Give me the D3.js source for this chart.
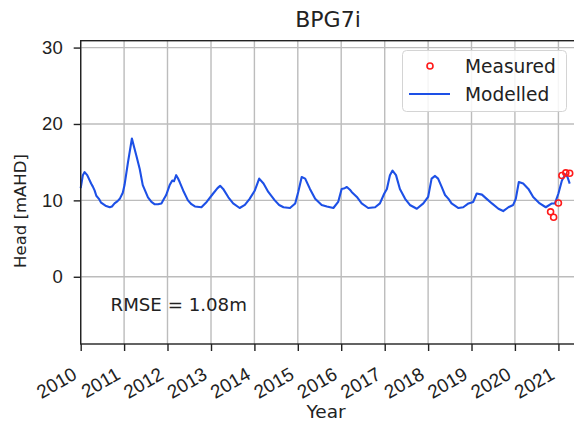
<!DOCTYPE html>
<html>
<head>
<meta charset="utf-8">
<script src="https://cdn.jsdelivr.net/npm/d3@7"></script>
<style>
  html, body { margin: 0; padding: 0; background: #fff; }
  svg { display: block; font-family: "DejaVu Sans", sans-serif; }
</style>
</head>
<body>
<svg id="chart" width="574" height="430"></svg>
<script>
// Bore BPG7i: modelled head (decimal year, mAHD)
const modelYears = [
  2010.00, 2010.05, 2010.09, 2010.15, 2010.24, 2010.28, 2010.32, 2010.36, 2010.42, 2010.47,
  2010.57, 2010.67, 2010.72, 2010.78, 2010.85, 2010.90, 2010.97, 2011.01, 2011.09, 2011.18,
  2011.23, 2011.28, 2011.36, 2011.43, 2011.55, 2011.63, 2011.70, 2011.78, 2011.86, 2011.92,
  2011.97, 2012.05, 2012.11, 2012.15, 2012.20, 2012.24, 2012.28, 2012.36, 2012.47, 2012.55,
  2012.63, 2012.78, 2012.90, 2013.05, 2013.15, 2013.21, 2013.28, 2013.40, 2013.51, 2013.66,
  2013.78, 2013.89, 2014.01, 2014.11, 2014.21, 2014.32, 2014.47, 2014.57, 2014.67, 2014.82,
  2014.94, 2015.01, 2015.09, 2015.17, 2015.28, 2015.40, 2015.55, 2015.67, 2015.82, 2015.93,
  2016.01, 2016.08, 2016.13, 2016.20, 2016.24, 2016.36, 2016.47, 2016.62, 2016.78, 2016.89,
  2016.99, 2017.05, 2017.12, 2017.18, 2017.26, 2017.35, 2017.47, 2017.58, 2017.74, 2017.89,
  2018.00, 2018.08, 2018.16, 2018.23, 2018.31, 2018.39, 2018.47, 2018.54, 2018.70, 2018.81,
  2018.93, 2019.04, 2019.12, 2019.24, 2019.35, 2019.47, 2019.62, 2019.73, 2019.85, 2019.96,
  2020.02, 2020.09, 2020.19, 2020.31, 2020.42, 2020.57, 2020.71, 2020.85, 2020.92, 2021.00,
  2021.08, 2021.16, 2021.21, 2021.26
];
const modelHead = [
  11.6, 13.3, 13.7, 13.3, 12.2, 11.8, 11.3, 10.6, 10.2, 9.7,
  9.3, 9.1, 9.2, 9.6, 9.9, 10.2, 11.0, 12.0, 15.0, 18.1,
  17.0, 15.9, 14.1, 12.0, 10.4, 9.8, 9.5, 9.5, 9.6, 10.2,
  10.7, 12.0, 12.6, 12.5, 13.3, 12.9, 12.4, 11.3, 10.0, 9.5,
  9.2, 9.1, 9.8, 10.9, 11.6, 11.9, 11.5, 10.4, 9.6, 9.0,
  9.4, 10.2, 11.3, 12.85, 12.2, 11.1, 10.0, 9.4, 9.1, 9.0,
  9.6, 11.1, 13.05, 12.85, 11.5, 10.2, 9.4, 9.2, 9.0, 9.8,
  11.5, 11.6, 11.75, 11.4, 11.1, 10.45, 9.6, 9.0, 9.1, 9.6,
  10.9, 11.5, 13.3, 13.9, 13.3, 11.5, 10.2, 9.4, 8.9, 9.6,
  10.45, 12.85, 13.2, 12.85, 11.8, 10.7, 10.2, 9.6, 9.0, 9.1,
  9.6, 9.8, 10.9, 10.75, 10.2, 9.6, 8.9, 8.6, 9.1, 9.4,
  10.2, 12.4, 12.2, 11.5, 10.45, 9.6, 9.1, 9.6, 9.6, 10.9,
  12.6, 13.4, 13.05, 12.2
];

// Measured head at the bore
const measuredYears = [2020.82, 2020.89, 2021.00, 2021.08, 2021.17, 2021.26];
const measuredHead  = [8.5, 7.8, 9.66, 13.25, 13.6, 13.55];

const yTicks = [0, 10, 20, 30];
const xTickYears = d3.range(2010, 2022);
const titleText = "BPG7i";
const rmseText = "RMSE = 1.08m";

// decimal year -> Date
function toDate(v) {
  const yr = Math.floor(v);
  const start = Date.UTC(yr, 0, 1), end = Date.UTC(yr + 1, 0, 1);
  return new Date(start + (v - yr) * (end - start));
}

const svg = d3.select("#chart");
const plotLeft = 80.7, plotRight = 576, plotTop = 40.7, plotBottom = 344;

const x = d3.scaleUtc()
  .domain([toDate(2010), toDate(2021.405)])
  .range([plotLeft, plotRight]);
const y = d3.scaleLinear().domain([-8.8, 30.9]).range([plotBottom, plotTop]);

const grid = svg.append("g").attr("stroke", "#bcbcbc").attr("stroke-width", 1.4);
xTickYears.forEach(yr => {
  grid.append("line")
    .attr("x1", x(toDate(yr))).attr("x2", x(toDate(yr)))
    .attr("y1", plotTop).attr("y2", plotBottom);
});
yTicks.forEach(v => {
  grid.append("line")
    .attr("x1", plotLeft).attr("x2", plotRight)
    .attr("y1", y(v)).attr("y2", y(v));
});

// modelled line
const line = d3.line()
  .x((d, i) => x(toDate(modelYears[i])))
  .y(d => y(d))
  .curve(d3.curveLinear);
svg.append("path")
  .datum(modelHead)
  .attr("d", line)
  .attr("fill", "none")
  .attr("stroke", "#1d50e6")
  .attr("stroke-width", 2.1)
  .attr("stroke-linejoin", "round");

// measured points
svg.append("g").selectAll("circle")
  .data(measuredHead)
  .join("circle")
  .attr("cx", (d, i) => x(toDate(measuredYears[i])))
  .attr("cy", d => y(d))
  .attr("r", 3)
  .attr("fill", "none")
  .attr("stroke", "#ff1a1a")
  .attr("stroke-width", 1.6);

// frame
svg.append("rect")
  .attr("x", plotLeft).attr("y", plotTop)
  .attr("width", plotRight - plotLeft).attr("height", plotBottom - plotTop)
  .attr("fill", "none").attr("stroke", "#222").attr("stroke-width", 1.4);

// axes
const xAxis = d3.axisBottom(x)
  .tickValues(xTickYears.map(toDate))
  .tickFormat(d3.utcFormat("%Y"))
  .tickSize(7).tickPadding(4);
const gx = svg.append("g").attr("transform", `translate(0,${plotBottom})`).call(xAxis);
gx.select(".domain").remove();
gx.selectAll(".tick line").attr("stroke", "#222").attr("stroke-width", 1.4);
gx.selectAll(".tick text")
  .attr("font-size", 19).attr("fill", "#222")
  .attr("text-anchor", "end")
  .attr("x", 0).attr("y", 0).attr("dy", 0)
  .attr("transform", "translate(-3,34) rotate(-30)");

const yAxis = d3.axisLeft(y).tickValues(yTicks).tickSize(7).tickPadding(11);
const gy = svg.append("g").attr("transform", `translate(${plotLeft},0)`).call(yAxis);
gy.select(".domain").remove();
gy.selectAll(".tick line").attr("stroke", "#222").attr("stroke-width", 1.4);
gy.selectAll(".tick text").attr("font-size", 18.5).attr("fill", "#222");

// labels
svg.append("text").attr("x", 328).attr("y", 26.5)
  .attr("text-anchor", "middle").attr("font-size", 22).attr("fill", "#222")
  .text(titleText);
svg.append("text").attr("x", 326).attr("y", 418)
  .attr("text-anchor", "middle").attr("font-size", 18.5).attr("fill", "#222")
  .text("Year");
svg.append("text")
  .attr("transform", "translate(26,211) rotate(-90)")
  .attr("text-anchor", "middle").attr("font-size", 16.5).attr("fill", "#222")
  .text("Head [mAHD]");
svg.append("text").attr("x", 110.5).attr("y", 310.5)
  .attr("font-size", 18.2).attr("fill", "#222")
  .text(rmseText);

// legend
const lg = svg.append("g");
lg.append("rect")
  .attr("x", 402.5).attr("y", 50.5).attr("width", 164).attr("height", 61)
  .attr("rx", 4).attr("fill", "#fff").attr("fill-opacity", 0.85)
  .attr("stroke", "#d4d4d4").attr("stroke-width", 1);
lg.append("circle").attr("cx", 430).attr("cy", 66).attr("r", 3)
  .attr("fill", "none").attr("stroke", "#ff1a1a").attr("stroke-width", 1.6);
lg.append("line").attr("x1", 409).attr("x2", 450).attr("y1", 94).attr("y2", 94)
  .attr("stroke", "#1d50e6").attr("stroke-width", 2.1);
lg.append("text").attr("x", 465).attr("y", 72.5).attr("font-size", 18.6).attr("fill", "#222").text("Measured");
lg.append("text").attr("x", 465).attr("y", 100.5).attr("font-size", 18.6).attr("fill", "#222").text("Modelled");
</script>
</body>
</html>
